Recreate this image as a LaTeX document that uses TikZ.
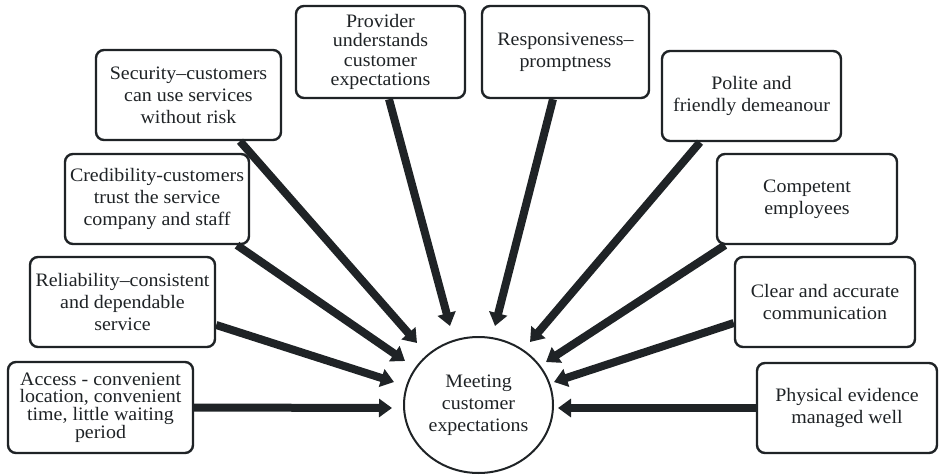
\documentclass[tikz,border=0pt]{standalone}
\usepackage{fontspec}
\setmainfont{Liberation Serif}[FakeStretch=1.05]
\usetikzlibrary{arrows.meta}
\definecolor{ink}{RGB}{31,35,38}
\begin{document}
\begin{tikzpicture}[x=1pt,y=-1pt,
  factor/.style={draw=ink, line width=2.4pt, rounded corners=8pt, fill=white,
    align=center, inner sep=0pt, text=ink,
    font=\fontsize{19}{22}\selectfont},
  hubtext/.style={align=center, inner sep=0pt, text=ink,
    font=\fontsize{19}{22}\selectfont},
  feed/.style={draw=ink, line width=8pt, -{Triangle[length=13pt,width=18pt]}}
]
\useasboundingbox (0,0) rectangle (939,476);

% central goal: an ellipse around the label
\node[hubtext] (goal) at (478.5,405) {Meeting\\customer\\expectations};
\draw[ink, line width=2pt] (goal.center) ellipse [x radius=74.5pt, y radius=68pt];

% factor boxes, left side
\node[factor, minimum width=185pt, minimum height=91pt, font=\fontsize{19}{17.8}\selectfont]
  (acc) at (100.5,407.5) {Access - convenient\\location, convenient\\time, little waiting\\period};
\node[factor, minimum width=185pt, minimum height=90pt]
  (rel) at (122.5,302) {Reliability–consistent\\and dependable\\service};
\node[factor, minimum width=184pt, minimum height=90pt]
  (cred) at (157,199) {Credibility-customers\\trust the service\\company and staff};
\node[factor, minimum width=185pt, minimum height=90pt]
  (sec) at (188.5,95) {Security–customers\\can use services\\without risk};

% factor boxes, top
\node[factor, minimum width=169pt, minimum height=92pt, font=\fontsize{19}{19.5}\selectfont]
  (prov) at (380.5,52) {Provider\\understands\\customer\\expectations};
\node[factor, minimum width=167pt, minimum height=92pt]
  (resp) at (565.5,52) {Responsiveness–\\promptness};

% factor boxes, right side
\node[factor, minimum width=179pt, minimum height=90pt]
  (pol) at (751.5,96) {Polite and\\friendly demeanour};
\node[factor, minimum width=180pt, minimum height=90pt]
  (comp) at (807,199) {Competent\\employees};
\node[factor, minimum width=180pt, minimum height=90pt]
  (clr) at (825,302) {Clear and accurate\\communication};
\node[factor, minimum width=180pt, minimum height=90pt]
  (phys) at (847,408) {Physical evidence\\managed well};

% arrow tips around the goal
\coordinate (t1) at (392,408);
\coordinate (t2) at (394,382);
\coordinate (t3) at (405,361);
\coordinate (t4) at (417,343);
\coordinate (t5) at (450,326);
\coordinate (t6) at (495,326);
\coordinate (t7) at (530,342);
\coordinate (t8) at (546,362);
\coordinate (t9) at (554,382);
\coordinate (t10) at (558,408);

% connectors
\draw[feed] (acc.east) -- (t1);
\draw[feed] ([yshift=-23pt]rel.east) -- (t2);
\draw[feed] ([xshift=80pt]cred.south) -- (t3);
\draw[feed] ([xshift=51.5pt]sec.south) -- (t4);
\draw[feed] ([xshift=8.5pt]prov.south) -- (t5);
\draw[feed] ([xshift=-12.5pt]resp.south) -- (t6);
\draw[feed] ([xshift=-51.5pt]pol.south) -- (t7);
\draw[feed] ([xshift=-82pt]comp.south) -- (t8);
\draw[feed] ([yshift=-21pt]clr.west) -- (t9);
\draw[feed] (phys.west) -- (t10);
\end{tikzpicture}
\end{document}
